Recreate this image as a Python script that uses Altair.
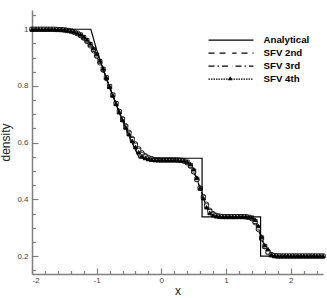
import altair as alt
import pandas as pd

# ---------------- data ----------------
series_names = ["Analytical", "SFV 2nd", "SFV 3rd", "SFV 4th"]
scheme_names = ["SFV 2nd", "SFV 3rd", "SFV 4th"]

ana_x = [-2.0, -1.09, -1.0, -0.9, -0.8, -0.7, -0.6, -0.5, -0.4, -0.34,
         0.63, 0.63, 1.535, 1.535, 2.5]
ana_y = [1.0, 1.0, 0.927, 0.859, 0.794, 0.734, 0.677, 0.624, 0.574, 0.545,
         0.545, 0.338, 0.338, 0.2, 0.2]

x_num = [-2.00, -1.95, -1.90, -1.85, -1.80, -1.75, -1.70, -1.65, -1.60, -1.55,
         -1.50, -1.45, -1.40, -1.35, -1.30, -1.25, -1.20, -1.15, -1.10, -1.05,
         -1.00, -0.95, -0.90, -0.85, -0.80, -0.75, -0.70, -0.65, -0.60, -0.55,
         -0.50, -0.45, -0.40, -0.35, -0.30, -0.25, -0.20, -0.15, -0.10, -0.05,
         0.00, 0.05, 0.10, 0.15, 0.20, 0.25, 0.30, 0.35, 0.40, 0.45,
         0.50, 0.55, 0.60, 0.65, 0.70, 0.75, 0.80, 0.85, 0.90, 0.95,
         1.00, 1.05, 1.10, 1.15, 1.20, 1.25, 1.30, 1.35, 1.40, 1.45,
         1.50, 1.55, 1.60, 1.65, 1.70, 1.75, 1.80, 1.85, 1.90, 1.95,
         2.00, 2.05, 2.10, 2.15, 2.20, 2.25, 2.30, 2.35, 2.40, 2.45, 2.50]

rho_2nd = [1.000, 1.000, 1.000, 1.000, 1.000, 1.000, 1.000, 0.999, 0.999, 0.998,
           0.997, 0.995, 0.993, 0.989, 0.984, 0.977, 0.968, 0.956, 0.941, 0.924,
           0.904, 0.881, 0.855, 0.826, 0.797, 0.768, 0.739, 0.711, 0.685, 0.660,
           0.637, 0.615, 0.596, 0.579, 0.565, 0.555, 0.548, 0.544, 0.541, 0.540,
           0.539, 0.539, 0.539, 0.539, 0.539, 0.538, 0.537, 0.534, 0.528, 0.516,
           0.496, 0.469, 0.440, 0.410, 0.383, 0.362, 0.350, 0.344, 0.341, 0.340,
           0.339, 0.339, 0.339, 0.339, 0.339, 0.339, 0.338, 0.336, 0.331, 0.317,
           0.293, 0.260, 0.232, 0.214, 0.206, 0.202, 0.201, 0.200, 0.200, 0.200,
           0.200, 0.200, 0.200, 0.200, 0.200, 0.200, 0.200, 0.200, 0.200, 0.200, 0.200]

rho_3rd = [1.000, 1.000, 1.000, 1.000, 1.000, 1.000, 1.000, 1.000, 0.999, 0.999,
           0.998, 0.996, 0.994, 0.991, 0.986, 0.980, 0.971, 0.960, 0.946, 0.929,
           0.909, 0.886, 0.859, 0.829, 0.798, 0.768, 0.738, 0.709, 0.682, 0.656,
           0.633, 0.611, 0.591, 0.573, 0.559, 0.550, 0.545, 0.542, 0.540, 0.539,
           0.539, 0.539, 0.539, 0.539, 0.539, 0.539, 0.538, 0.536, 0.531, 0.520,
           0.500, 0.471, 0.439, 0.407, 0.377, 0.357, 0.347, 0.342, 0.340, 0.339,
           0.339, 0.339, 0.339, 0.339, 0.339, 0.339, 0.339, 0.337, 0.334, 0.322,
           0.299, 0.264, 0.234, 0.214, 0.204, 0.201, 0.200, 0.200, 0.200, 0.200,
           0.200, 0.200, 0.200, 0.200, 0.200, 0.200, 0.200, 0.200, 0.200, 0.200, 0.200]

rho_4th = [1.000, 1.000, 1.000, 1.000, 1.000, 1.000, 1.000, 1.000, 0.999, 0.999,
           0.998, 0.997, 0.995, 0.992, 0.988, 0.982, 0.974, 0.964, 0.950, 0.933,
           0.913, 0.890, 0.862, 0.830, 0.798, 0.767, 0.737, 0.708, 0.680, 0.654,
           0.630, 0.606, 0.585, 0.566, 0.553, 0.546, 0.542, 0.540, 0.539, 0.539,
           0.539, 0.539, 0.539, 0.539, 0.539, 0.539, 0.538, 0.537, 0.533, 0.524,
           0.506, 0.476, 0.440, 0.404, 0.372, 0.352, 0.344, 0.341, 0.340, 0.339,
           0.339, 0.339, 0.339, 0.339, 0.339, 0.339, 0.339, 0.338, 0.336, 0.328,
           0.306, 0.268, 0.238, 0.224, 0.205, 0.201, 0.200, 0.200, 0.200, 0.200,
           0.200, 0.200, 0.200, 0.200, 0.200, 0.200, 0.200, 0.200, 0.200, 0.200, 0.200]

x_major = [-2, -1, 0, 1, 2]
x_minor = [-1.8, -1.6, -1.4, -1.2, -0.8, -0.6, -0.4, -0.2, 0.2, 0.4, 0.6, 0.8,
           1.2, 1.4, 1.6, 1.8, 2.2, 2.4]
y_major = [0.2, 0.4, 0.6, 0.8, 1.0]
y_minor = [0.15, 0.25, 0.3, 0.35, 0.45, 0.5, 0.55, 0.65, 0.7, 0.75, 0.85, 0.9, 0.95, 1.05]

# ---------------- tables ----------------
ana_df = pd.DataFrame({"x": ana_x, "density": ana_y,
                       "series": "Analytical", "idx": list(range(len(ana_x)))})
num_rows = []
for name, ys in zip(scheme_names, [rho_2nd, rho_3rd, rho_4th]):
    for i, (xv, yv) in enumerate(zip(x_num, ys)):
        num_rows.append({"x": xv, "density": yv, "series": name, "scheme": name, "idx": i})
num_df = pd.DataFrame(num_rows)

# ---------------- styling ----------------
GRAY = "#808080"
FONT = "Liberation Sans"

x_scale = alt.Scale(domain=[-2, 2.5], nice=False, zero=False)
y_scale = alt.Scale(domain=[0.1366, 1.068], nice=False, zero=False)
dash_scale = alt.Scale(domain=series_names,
                       range=[[1, 0], [6, 5], [6, 3, 1.5, 3], [1.5, 1]])
shape_scale = alt.Scale(domain=scheme_names, range=["circle", "square", "triangle-up"])
fill_scale = alt.Scale(domain=scheme_names, range=["white", "white", "black"])

line_legend = alt.Legend(orient="none", legendX=175.5, legendY=24, title=None,
                         symbolType="stroke", symbolSize=2025, symbolStrokeWidth=1.2,
                         symbolStrokeColor="black", clipHeight=12.2, rowPadding=0,
                         padding=0, labelFont=FONT, labelFontSize=9.7,
                         labelFontWeight="bold", labelColor="black", labelOffset=9,
                         labelLimit=200)
marker_legend = alt.Legend(orient="none", legendX=195.2, legendY=36.2, title=None,
                           symbolSize=20, symbolStrokeWidth=0.9, symbolStrokeColor="black",
                           clipHeight=12.2, rowPadding=0, padding=0,
                           labelFontSize=1, labelExpr="''", labelOffset=0)

main_x_axis = alt.Axis(orient="bottom", values=x_major, labelExpr="'' + datum.value",
                       ticks=False, tickSize=0, domain=True, domainColor=GRAY,
                       domainWidth=1.5, grid=False, labelFont=FONT, labelFontSize=8,
                       labelColor="#444444", labelPadding=2, title="x", titleFont=FONT,
                       titleFontSize=12, titleFontWeight="normal", titleColor="#222222",
                       titlePadding=1)
main_y_axis = alt.Axis(orient="left", values=y_major, labelExpr="'' + datum.value",
                       ticks=False, tickSize=0, domain=True, domainColor=GRAY,
                       domainWidth=1.5, grid=False, labelFont=FONT, labelFontSize=8,
                       labelColor="#444444", labelPadding=4, title="density",
                       titleFont=FONT, titleFontSize=12, titleFontWeight="normal",
                       titleColor="#222222", titlePadding=4)
major_x_axis = alt.Axis(orient="bottom", values=x_major, labels=False, domain=False,
                        grid=False, ticks=True, tickSize=6, tickColor=GRAY, tickWidth=1.2,
                        offset=-6, title=None)
major_y_axis = alt.Axis(orient="left", values=y_major, labels=False, domain=False,
                        grid=False, ticks=True, tickSize=6, tickColor=GRAY, tickWidth=1.2,
                        offset=-6, title=None)
minor_x_axis = alt.Axis(orient="bottom", values=x_minor, labels=False, domain=False,
                        grid=False, ticks=True, tickSize=3.5, tickColor=GRAY, tickWidth=1.2,
                        offset=-3.5, title=None)
minor_y_axis = alt.Axis(orient="left", values=y_minor, labels=False, domain=False,
                        grid=False, ticks=True, tickSize=3.5, tickColor=GRAY, tickWidth=1.2,
                        offset=-3.5, title=None)

sfv_lines = alt.Chart(num_df).mark_line(color="black", strokeWidth=1).encode(
    x=alt.X("x:Q", scale=x_scale, axis=major_x_axis),
    y=alt.Y("density:Q", scale=y_scale, axis=major_y_axis),
    strokeDash=alt.StrokeDash("series:N", scale=dash_scale, legend=line_legend),
    detail="series:N",
    order="idx:Q",
)

sfv_points = alt.Chart(num_df).mark_point(filled=True, stroke="black", strokeWidth=0.8,
                                          size=17, opacity=1).encode(
    x=alt.X("x:Q", scale=x_scale, axis=minor_x_axis),
    y=alt.Y("density:Q", scale=y_scale, axis=minor_y_axis),
    shape=alt.Shape("scheme:N", scale=shape_scale, legend=marker_legend),
    fill=alt.Fill("scheme:N", scale=fill_scale, legend=marker_legend),
)

ana_line = alt.Chart(ana_df).mark_line(color="black", strokeWidth=1.2).encode(
    x=alt.X("x:Q", scale=x_scale, axis=main_x_axis),
    y=alt.Y("density:Q", scale=y_scale, axis=main_y_axis),
    strokeDash=alt.StrokeDash("series:N", scale=dash_scale, legend=line_legend),
    order="idx:Q",
)

chart = alt.layer(sfv_lines, sfv_points, ana_line).resolve_axis(
    x="independent", y="independent"
).properties(
    width=291, height=264,
    autosize=alt.AutoSizeParams(type="none"),
    padding={"left": 32, "top": 10, "right": 4, "bottom": 24},
    background="white",
).configure_view(stroke=None)

chart.save("out.html", embed_options={"renderer": "svg", "actions": False})
